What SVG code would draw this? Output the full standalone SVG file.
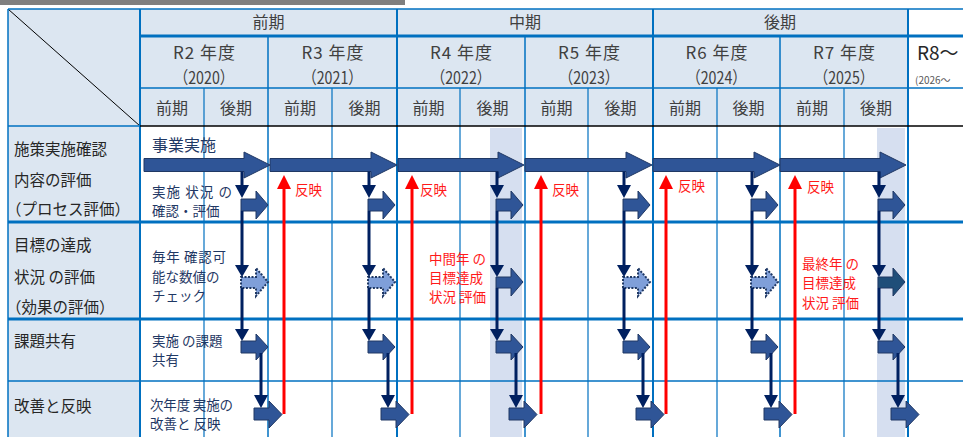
<svg xmlns="http://www.w3.org/2000/svg" width="963" height="437" viewBox="0 0 963 437">
<style>
text{font-family:"Noto Sans CJK JP","Liberation Sans",sans-serif}
.hd{font-size:16px;fill:#404040;text-anchor:middle}
.yr{font-size:17px;fill:#404040;text-anchor:middle}
.lc{font-size:15.5px;fill:#262626}
.ds{font-size:13.5px;fill:#1f3864}
.rd{font-size:13.5px;fill:#ff1a1a}
.g{stroke:#0070c0;fill:none}
.ma{fill:#2f5597;stroke:#203864;stroke-width:1}
.da{fill:#7f9fd9;stroke:#1f3864;stroke-width:2;stroke-dasharray:2 1.5}
.nv{stroke:#002060;stroke-width:3;fill:none}
.nt{fill:#002060}
.rl{stroke:#ff0000;stroke-width:3;fill:none}
.rt{fill:#ff0000}
</style>
<rect width="963" height="437" fill="#ffffff"/>
<rect x="0" y="0" width="405" height="5" fill="#7f7f7f"/>
<g id="table">
<rect x="8" y="9" width="900" height="117" fill="#dce6f1"/>
<rect x="8" y="126" width="132" height="311" fill="#dce6f1"/>
<rect x="490" y="128" width="32" height="309" fill="#d6dff0"/>
<rect x="877" y="128" width="28" height="309" fill="#d6dff0"/>
<line x1="8" y1="9" x2="140" y2="126" stroke="#000" stroke-width="1"/>
<g class="g" stroke-width="1.5">
<line x1="8" y1="9" x2="963" y2="9"/>
<line x1="140" y1="88" x2="963" y2="88"/>
<line x1="8" y1="126" x2="140" y2="126"/>
<line x1="8" y1="381" x2="963" y2="381"/>
<line x1="8" y1="9" x2="8" y2="437"/>
<line x1="268" y1="36" x2="268" y2="437"/>
<line x1="525" y1="36" x2="525" y2="437"/>
<line x1="780" y1="36" x2="780" y2="437"/>
</g>
<g class="g" stroke-width="1.2">
<line x1="204" y1="88" x2="204" y2="437"/>
<line x1="332" y1="88" x2="332" y2="437"/>
<line x1="460" y1="88" x2="460" y2="437"/>
<line x1="588" y1="88" x2="588" y2="437"/>
<line x1="717" y1="88" x2="717" y2="437"/>
<line x1="844" y1="88" x2="844" y2="437"/>
</g>
<g class="g" stroke-width="2">
<line x1="140" y1="9" x2="140" y2="437"/>
<line x1="397" y1="9" x2="397" y2="437"/>
<line x1="653" y1="9" x2="653" y2="437"/>
<line x1="908" y1="9" x2="908" y2="437"/>
</g>
<g class="g" stroke-width="3">
<line x1="140" y1="36" x2="963" y2="36"/>
<line x1="8" y1="222" x2="963" y2="222"/>
<line x1="8" y1="319" x2="963" y2="319"/>
</g>
<line x1="140" y1="126" x2="963" y2="126" stroke="#000" stroke-width="1.5"/>
</g>
<g id="header">
<text class="hd" x="268.5" y="28">前期</text>
<text class="hd" x="525" y="28">中期</text>
<text class="hd" x="780" y="28">後期</text>
<text class="yr" x="204" y="59" textLength="62">R2 年度</text>
<text class="yr" x="332.5" y="59" textLength="62">R3 年度</text>
<text class="yr" x="461" y="59" textLength="62">R4 年度</text>
<text class="yr" x="589" y="59" textLength="62">R5 年度</text>
<text class="yr" x="716.5" y="59" textLength="62">R6 年度</text>
<text class="yr" x="844" y="59" textLength="62">R7 年度</text>
<text class="yr" x="204" y="84" textLength="60" lengthAdjust="spacingAndGlyphs">（2020）</text>
<text class="yr" x="332.5" y="84" textLength="60" lengthAdjust="spacingAndGlyphs">（2021）</text>
<text class="yr" x="461" y="84" textLength="60" lengthAdjust="spacingAndGlyphs">（2022）</text>
<text class="yr" x="589" y="84" textLength="60" lengthAdjust="spacingAndGlyphs">（2023）</text>
<text class="yr" x="716.5" y="84" textLength="60" lengthAdjust="spacingAndGlyphs">（2024）</text>
<text class="yr" x="844" y="84" textLength="60" lengthAdjust="spacingAndGlyphs">（2025）</text>
<text x="917" y="60" font-size="19" fill="#262626">R8～</text>
<text x="915" y="84" font-size="10" fill="#595959">(2026～</text>
<text class="hd" x="172" y="114">前期</text>
<text class="hd" x="236" y="114">後期</text>
<text class="hd" x="300" y="114">前期</text>
<text class="hd" x="364.5" y="114">後期</text>
<text class="hd" x="428.5" y="114">前期</text>
<text class="hd" x="492.5" y="114">後期</text>
<text class="hd" x="556.5" y="114">前期</text>
<text class="hd" x="620.5" y="114">後期</text>
<text class="hd" x="685" y="114">前期</text>
<text class="hd" x="748.5" y="114">後期</text>
<text class="hd" x="812" y="114">前期</text>
<text class="hd" x="876" y="114">後期</text>
</g>
<g id="row-process">
<text class="lc" x="14" y="155">施策実施確認</text>
<text class="lc" x="14" y="186">内容の評価</text>
<text class="lc" x="6" y="215">（プロセス評価）</text>
<text x="152" y="151" font-size="16" fill="#1f3864" textLength="64">事業実施</text>
<text class="ds" x="152" y="197" textLength="80">実施 状況 の</text>
<text class="ds" x="152" y="216">確認・評価</text>
</g>
<g id="row-effect">
<text class="lc" x="14" y="251">目標の達成</text>
<text class="lc" x="14" y="283">状況 の評価</text>
<text class="lc" x="6" y="313">（効果の評価）</text>
<text class="ds" x="152" y="262" textLength="74">毎年 確認可</text>
<text class="ds" x="152" y="282">能な数値の</text>
<text class="ds" x="152" y="301">チェック</text>
<text class="rd" x="429" y="264">中間年 の</text>
<text class="rd" x="429" y="283">目標達成</text>
<text class="rd" x="429" y="302">状況 評価</text>
<text class="rd" x="802" y="269">最終年 の</text>
<text class="rd" x="802" y="288">目標達成</text>
<text class="rd" x="802" y="308">状況 評価</text>
</g>
<g id="row-share">
<text class="lc" x="14" y="347">課題共有</text>
<text class="ds" x="152" y="346">実施 の課題</text>
<text class="ds" x="152" y="365">共有</text>
</g>
<g id="row-improve">
<text class="lc" x="14" y="412">改善と反映</text>
<text class="ds" x="150" y="409.5" font-size="13" textLength="83">次年度 実施の</text>
<text class="ds" x="150" y="428.5" font-size="13">改善と 反映</text>
</g>
<g id="connectors">
<g id="main-arrows">
<polygon class="ma" points="144,158.5 244,158.5 244,152 270,165 244,178 244,171.5 144,171.5"/>
<polygon class="ma" points="270,158.5 371,158.5 371,152 397,165 371,178 371,171.5 270,171.5"/>
<polygon class="ma" points="398,158.5 498,158.5 498,152 524,165 498,178 498,171.5 398,171.5"/>
<polygon class="ma" points="525,158.5 626,158.5 626,152 652,165 626,178 626,171.5 525,171.5"/>
<polygon class="ma" points="653,158.5 754,158.5 754,152 780,165 754,178 754,171.5 653,171.5"/>
<polygon class="ma" points="780,158.5 880,158.5 880,152 906,165 880,178 880,171.5 780,171.5"/>
</g>
<g id="reflect">
<line class="rl" x1="284" y1="188" x2="284" y2="414"/><polygon class="rt" points="277,189 291,189 284,175"/>
<line class="rl" x1="412" y1="188" x2="412" y2="414"/><polygon class="rt" points="405,189 419,189 412,175"/>
<line class="rl" x1="541" y1="188" x2="541" y2="414"/><polygon class="rt" points="534,189 548,189 541,175"/>
<line class="rl" x1="666" y1="188" x2="666" y2="414"/><polygon class="rt" points="659,189 673,189 666,175"/>
<line class="rl" x1="795" y1="188" x2="795" y2="414"/><polygon class="rt" points="788,189 802,189 795,175"/>
<text class="rd" x="295" y="195">反映</text>
<text class="rd" x="420" y="195">反映</text>
<text class="rd" x="552" y="195">反映</text>
<text class="rd" x="678" y="191">反映</text>
<text class="rd" x="807" y="192">反映</text>
</g>
<g id="cycle-r2">
<polygon class="ma" points="241,199 256,199 256,191 268,205 256,219 256,211 241,211"/>
<polygon class="da" points="241,277 256,277 256,268 268,282 256,296 256,288 241,288"/>
<polygon class="ma" points="241,341 256,341 256,334 268,347 256,360 256,353 241,353"/>
<polygon class="ma" points="254,408 269,408 269,401 282,414.5 269,428 269,420 254,420"/>
<path class="nv" d="M242,171.5V186M242,211V266M242,288V330M261,353V396"/>
<polygon class="nt" points="235,185 249,185 242,198"/><polygon class="nt" points="235,265 249,265 242,277"/><polygon class="nt" points="235,329 249,329 242,341"/><polygon class="nt" points="254,395 268,395 261,408"/>
</g>
<g id="cycle-r3">
<polygon class="ma" points="368,199 383,199 383,191 395,205 383,219 383,211 368,211"/>
<polygon class="da" points="368,277 383,277 383,268 395,282 383,296 383,288 368,288"/>
<polygon class="ma" points="368,341 383,341 383,334 395,347 383,360 383,353 368,353"/>
<polygon class="ma" points="381,408 396,408 396,401 409,414.5 396,428 396,420 381,420"/>
<path class="nv" d="M369,171.5V186M369,211V266M369,288V330M388,353V396"/>
<polygon class="nt" points="362,185 376,185 369,198"/><polygon class="nt" points="362,265 376,265 369,277"/><polygon class="nt" points="362,329 376,329 369,341"/><polygon class="nt" points="381,395 395,395 388,408"/>
</g>
<g id="cycle-r4">
<polygon class="ma" points="496,199 511,199 511,191 523,205 511,219 511,211 496,211"/>
<polygon class="ma" points="496,277 511,277 511,268 523,282 511,296 511,288 496,288"/>
<polygon class="ma" points="496,341 511,341 511,334 523,347 511,360 511,353 496,353"/>
<polygon class="ma" points="509,408 524,408 524,401 537,414.5 524,428 524,420 509,420"/>
<path class="nv" d="M497,171.5V186M497,211V266M497,288V330M516,353V396"/>
<polygon class="nt" points="490,185 504,185 497,198"/><polygon class="nt" points="490,265 504,265 497,277"/><polygon class="nt" points="490,329 504,329 497,341"/><polygon class="nt" points="509,395 523,395 516,408"/>
</g>
<g id="cycle-r5">
<polygon class="ma" points="623,199 638,199 638,191 650,205 638,219 638,211 623,211"/>
<polygon class="da" points="623,277 638,277 638,268 650,282 638,296 638,288 623,288"/>
<polygon class="ma" points="623,341 638,341 638,334 650,347 638,360 638,353 623,353"/>
<polygon class="ma" points="636,408 651,408 651,401 664,414.5 651,428 651,420 636,420"/>
<path class="nv" d="M624,171.5V186M624,211V266M624,288V330M643,353V396"/>
<polygon class="nt" points="617,185 631,185 624,198"/><polygon class="nt" points="617,265 631,265 624,277"/><polygon class="nt" points="617,329 631,329 624,341"/><polygon class="nt" points="636,395 650,395 643,408"/>
</g>
<g id="cycle-r6">
<polygon class="ma" points="751,199 766,199 766,191 778,205 766,219 766,211 751,211"/>
<polygon class="da" points="751,277 766,277 766,268 778,282 766,296 766,288 751,288"/>
<polygon class="ma" points="751,341 766,341 766,334 778,347 766,360 766,353 751,353"/>
<polygon class="ma" points="764,408 779,408 779,401 792,414.5 779,428 779,420 764,420"/>
<path class="nv" d="M752,171.5V186M752,211V266M752,288V330M771,353V396"/>
<polygon class="nt" points="745,185 759,185 752,198"/><polygon class="nt" points="745,265 759,265 752,277"/><polygon class="nt" points="745,329 759,329 752,341"/><polygon class="nt" points="764,395 778,395 771,408"/>
</g>
<g id="cycle-r7">
<polygon class="ma" points="878,199 893,199 893,191 905,205 893,219 893,211 878,211"/>
<polygon class="ma" style="fill:#1f4e79" points="878,277 893,277 893,268 905,282 893,296 893,288 878,288"/>
<polygon class="ma" points="878,341 893,341 893,334 905,347 893,360 893,353 878,353"/>
<polygon class="ma" points="891,408 906,408 906,401 919,414.5 906,428 906,420 891,420"/>
<path class="nv" d="M879,171.5V186M879,211V266M879,288V330M898,353V396"/>
<polygon class="nt" points="872,185 886,185 879,198"/><polygon class="nt" points="872,265 886,265 879,277"/><polygon class="nt" points="872,329 886,329 879,341"/><polygon class="nt" points="891,395 905,395 898,408"/>
</g>
</g>
</svg>
